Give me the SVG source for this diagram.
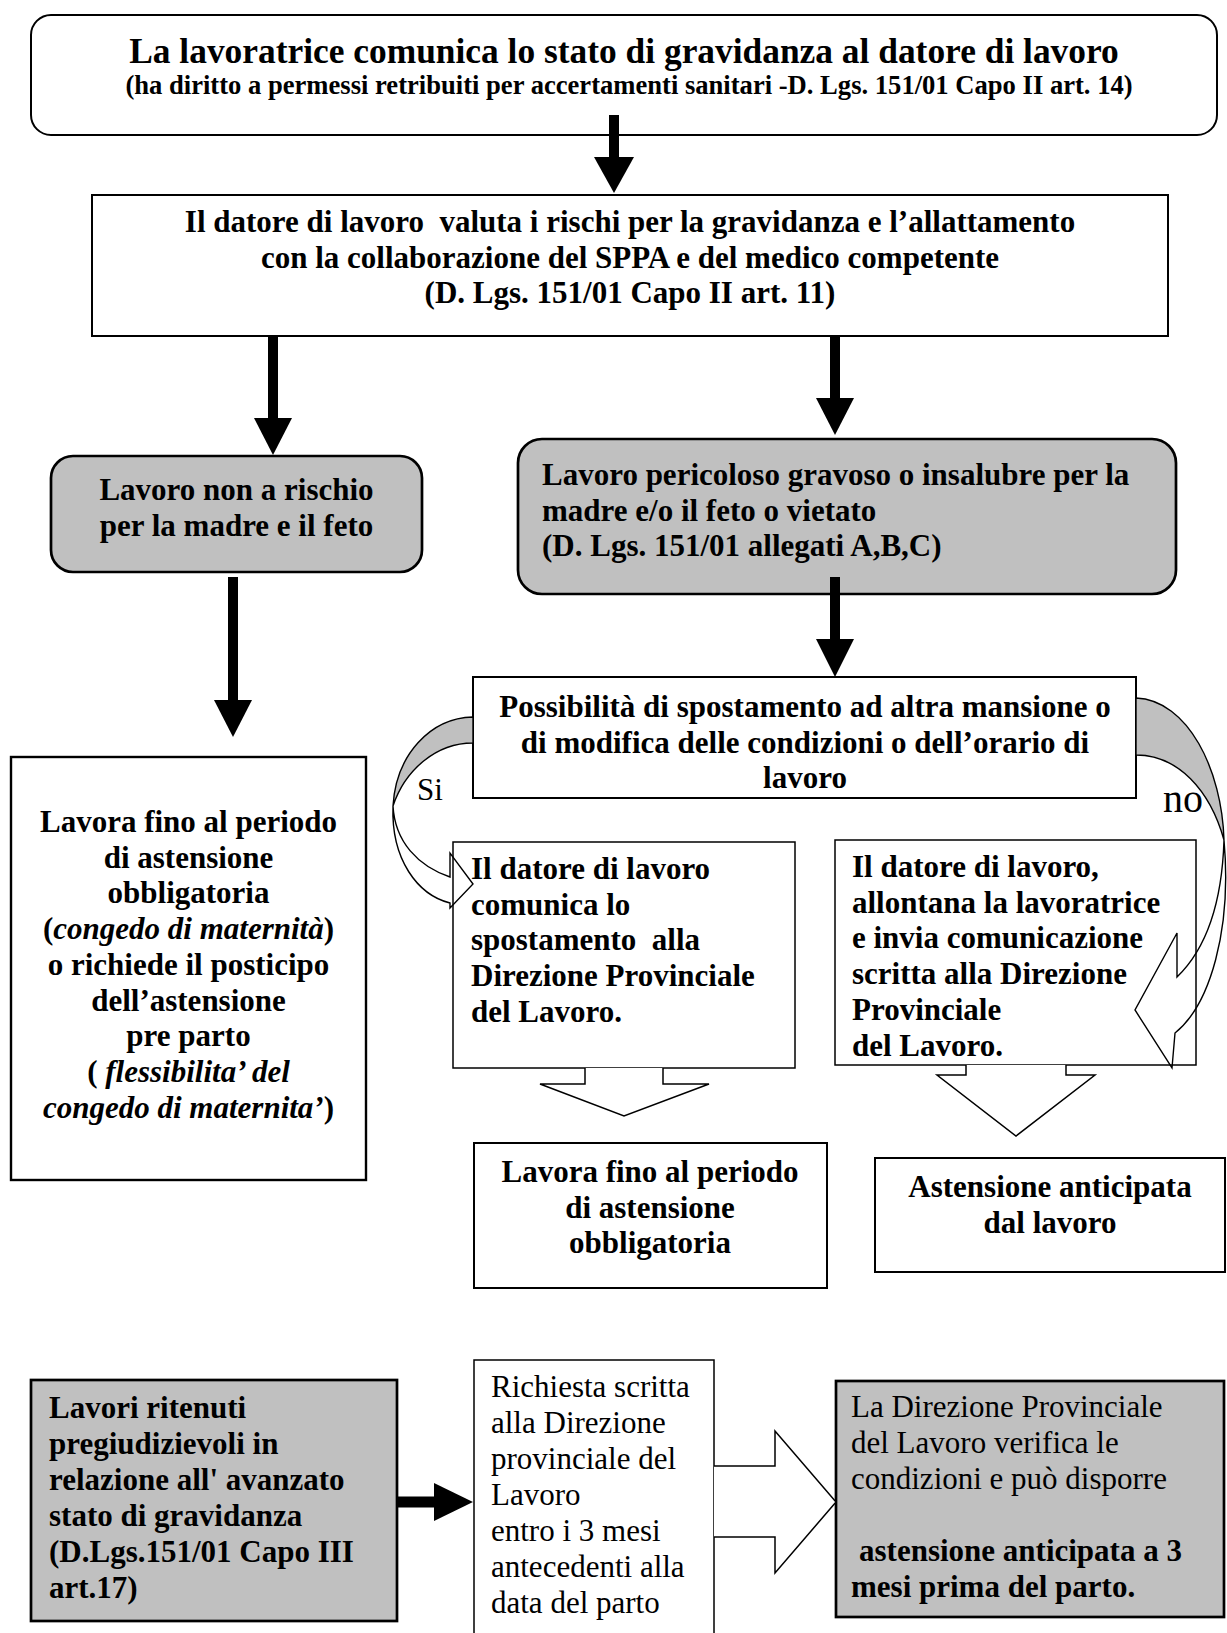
<svg xmlns="http://www.w3.org/2000/svg" width="1227" height="1633" viewBox="0 0 1227 1633">
<style>
text{font-family:"Liberation Serif","Times New Roman",serif;fill:#000}
.b{font-weight:bold;font-size:31px}
.r{font-weight:normal;font-size:31px}
.c{text-anchor:middle}
.i{font-style:italic}
.box{fill:#fff;stroke:#000;stroke-width:2}
.thin{fill:#fff;stroke:#000;stroke-width:1.5}
.gray{fill:#c0c0c0;stroke:#000;stroke-width:2.7}
.shaft{stroke:#000;stroke-width:10;fill:none}
.head{fill:#000;stroke:none}
.outl{fill:#fff;stroke:#000;stroke-width:1.5;stroke-linejoin:miter}
.curve{fill:none;stroke:#000;stroke-width:1.4}
.back{fill:#c0c0c0;stroke:#000;stroke-width:1.4}
</style>
<rect width="1227" height="1633" fill="#fff"/>

<g id="n-comunica">
<rect class="box" x="31" y="15" width="1186" height="120" rx="20"/>
<text class="b c" x="624" y="63" style="font-size:35.4px">La lavoratrice comunica lo stato di gravidanza al datore di lavoro</text>
<text class="b c" x="629" y="94" style="font-size:26.6px">(ha diritto a permessi retribuiti per accertamenti sanitari -D. Lgs. 151/01 Capo II art. 14)</text>
</g>

<g id="n-valuta">
<rect class="box" x="92" y="195" width="1076" height="141"/>
<text class="b c" x="630" y="232" xml:space="preserve">Il datore di lavoro  valuta i rischi per la gravidanza e l’allattamento</text>
<text class="b c" x="630" y="267.7">con la collaborazione del SPPA e del medico competente</text>
<text class="b c" x="630" y="303.4">(D. Lgs. 151/01 Capo II art. 11)</text>
</g>

<g id="n-nonrischio">
<rect class="gray" x="51" y="456" width="371" height="116" rx="22"/>
<text class="b c" x="236.5" y="500">Lavoro non a rischio</text>
<text class="b c" x="236.5" y="536">per la madre e il feto</text>
</g>

<g id="n-pericoloso">
<rect class="gray" x="518" y="439" width="658" height="155" rx="24"/>
<text class="b" x="542" y="485">Lavoro pericoloso gravoso o insalubre per la</text>
<text class="b" x="542" y="520.7">madre e/o il feto o vietato</text>
<text class="b" x="542" y="556.4">(D. Lgs. 151/01 allegati A,B,C)</text>
</g>

<g id="n-lavora1">
<rect class="box" x="11" y="757" width="355" height="423" style="stroke-width:2.4"/>
<text class="b c" x="188.5" y="832">Lavora fino al periodo</text>
<text class="b c" x="188.5" y="867.7">di astensione</text>
<text class="b c" x="188.5" y="903.4">obbligatoria</text>
<text class="b c" x="188.5" y="939.1">(<tspan class="i">congedo di maternità</tspan>)</text>
<text class="b c" x="188.5" y="974.8">o richiede il posticipo</text>
<text class="b c" x="188.5" y="1010.5">dell’astensione</text>
<text class="b c" x="188.5" y="1046.2">pre parto</text>
<text class="b c" x="188.5" y="1081.9" xml:space="preserve">( <tspan class="i">flessibilita’ del</tspan></text>
<text class="b c" x="188.5" y="1117.6"><tspan class="i">congedo di maternita’</tspan>)</text>
</g>

<g id="n-possibilita">
<rect class="box" x="473" y="677" width="663" height="121"/>
<text class="b c" x="805" y="717">Possibilità di spostamento ad altra mansione o</text>
<text class="b c" x="805" y="752.7">di modifica delle condizioni o dell’orario di</text>
<text class="b c" x="805" y="788.4">lavoro</text>
</g>

<g id="n-spostamento">
<rect class="thin" x="453" y="842" width="342" height="226"/>
<text class="b" x="471" y="879">Il datore di lavoro</text>
<text class="b" x="471" y="914.7">comunica lo</text>
<text class="b" x="471" y="950.4" xml:space="preserve">spostamento  alla</text>
<text class="b" x="471" y="986.1">Direzione Provinciale</text>
<text class="b" x="471" y="1021.8">del Lavoro.</text>
</g>

<g id="n-allontana">
<rect class="thin" x="835" y="840" width="361" height="225"/>
<text class="b" x="852" y="877">Il datore di lavoro,</text>
<text class="b" x="852" y="912.7">allontana la lavoratrice</text>
<text class="b" x="852" y="948.4">e invia comunicazione</text>
<text class="b" x="852" y="984.1">scritta alla Direzione</text>
<text class="b" x="852" y="1019.8">Provinciale</text>
<text class="b" x="852" y="1055.5">del Lavoro.</text>
</g>

<g id="n-lavora2">
<rect class="box" x="474" y="1143" width="353" height="145"/>
<text class="b c" x="650" y="1182">Lavora fino al periodo</text>
<text class="b c" x="650" y="1217.5">di astensione</text>
<text class="b c" x="650" y="1253">obbligatoria</text>
</g>

<g id="n-anticipata">
<rect class="box" x="875" y="1158" width="350" height="114"/>
<text class="b c" x="1050" y="1197">Astensione anticipata</text>
<text class="b c" x="1050" y="1233">dal lavoro</text>
</g>

<g id="n-pregiudizievoli">
<rect class="gray" x="31" y="1380" width="366" height="241"/>
<text class="b" x="49" y="1418">Lavori ritenuti</text>
<text class="b" x="49" y="1453.9">pregiudizievoli in</text>
<text class="b" x="49" y="1489.8">relazione all' avanzato</text>
<text class="b" x="49" y="1525.7">stato di gravidanza</text>
<text class="b" x="49" y="1561.6">(D.Lgs.151/01 Capo III</text>
<text class="b" x="49" y="1597.5">art.17)</text>
</g>

<g id="n-richiesta">
<rect class="thin" x="474" y="1360" width="240" height="290"/>
<text class="r" x="491" y="1397">Richiesta scritta</text>
<text class="r" x="491" y="1433">alla Direzione</text>
<text class="r" x="491" y="1469">provinciale del</text>
<text class="r" x="491" y="1505">Lavoro</text>
<text class="r" x="491" y="1541">entro i 3 mesi</text>
<text class="r" x="491" y="1577">antecedenti alla</text>
<text class="r" x="491" y="1613">data del parto</text>
</g>

<g id="n-verifica">
<rect class="gray" x="836" y="1381" width="388" height="236"/>
<text class="r" x="851" y="1417">La Direzione Provinciale</text>
<text class="r" x="851" y="1453">del Lavoro verifica le</text>
<text class="r" x="851" y="1489">condizioni e può disporre</text>
<text class="b" x="859" y="1561">astensione anticipata a 3</text>
<text class="b" x="851" y="1597">mesi prima del parto.</text>
</g>

<g id="connectors">
<line class="shaft" x1="614" y1="115" x2="614" y2="160"/>
<polygon class="head" points="594,157 634,157 614,193"/>

<line class="shaft" x1="273" y1="336" x2="273" y2="421"/>
<polygon class="head" points="254,418 292,418 273,455"/>

<line class="shaft" x1="835" y1="336" x2="835" y2="401"/>
<polygon class="head" points="816,398 854,398 835,435"/>

<line class="shaft" x1="233" y1="577" x2="233" y2="703"/>
<polygon class="head" points="214,700 252,700 233,737"/>

<line class="shaft" x1="835" y1="577" x2="835" y2="642"/>
<polygon class="head" points="816,639 854,639 835,677"/>

<line class="shaft" x1="396" y1="1502" x2="437" y2="1502" style="stroke-width:11"/>
<polygon class="head" points="434,1483 434,1521 473,1502"/>

<path class="outl" d="M585,1068 L585,1084 L540,1084 L624,1116 L709,1084 L663,1084 L663,1068"/>
<path class="outl" d="M966,1065 L966,1075 L937,1075 L1016,1136 L1095,1075 L1066,1075 L1066,1065"/>
<path class="outl" d="M714,1466 L775,1466 L775,1431 L836,1502 L775,1573 L775,1537 L714,1537"/>

<path class="back" d="M473,717 C430,718 396,755 393,806 C405,770 436,743 473,743 Z"/>
<path class="curve" d="M393,806 C395,842 418,866 450,877 L450,853 L473,884 L450,908 L450,903 C418,895 391,860 393,806"/>

<path class="back" d="M1136,698 C1188,700 1222,770 1224,840 C1210,790 1178,755 1136,755 Z"/>
<path class="curve" d="M1224,840 C1222,905 1205,950 1177,977 L1177,933 L1135,1010 L1172,1068 L1175,1033 C1210,1005 1232,930 1224,840"/>

<text class="r" x="417" y="800">Si</text>
<text class="r" x="1163" y="812" style="font-size:40px">no</text>
</g>
</svg>
